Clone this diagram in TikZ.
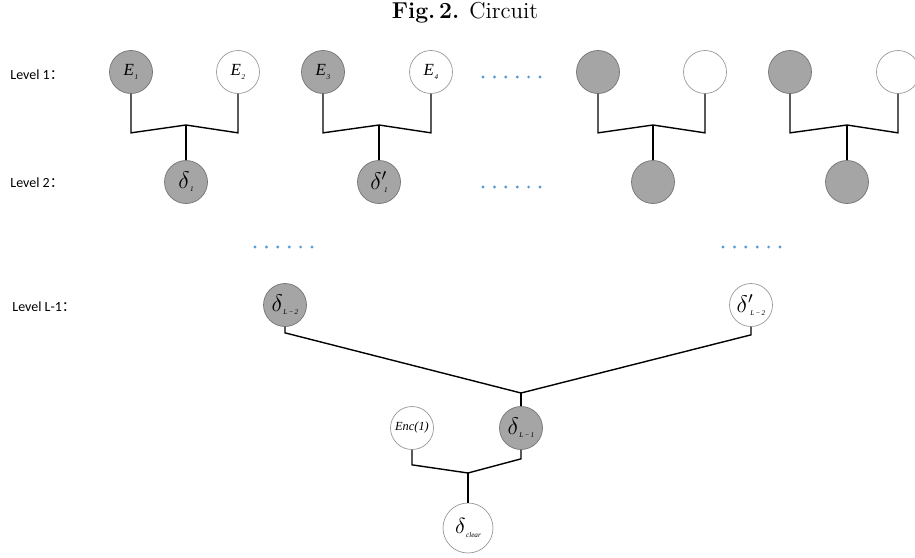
\documentclass[tikz,border=0pt]{standalone}
\usepackage{fontspec}
\newfontfamily\labelfont{Carlito}
\newfontfamily\cjk{Noto Sans CJK SC}
\newfontfamily\timesfont{Liberation Serif}
\definecolor{dotblue}{RGB}{91,155,213}
\definecolor{nodegray}{RGB}{165,165,165}
% tiny italic index set below the base line
\newcommand{\lowidx}[1]{\raisebox{-1.6pt}{\timesfont\itshape\fontsize{3.6}{4}\selectfont #1}}
\newcommand{\Eidx}[1]{{\timesfont\itshape E}\kern0.3pt\lowidx{#1}}
\newcommand{\didx}[1]{$\delta$\kern0.2pt\lowidx{#1}}
\newcommand{\dpidx}[1]{$\delta'$\kern-1.6pt\lowidx{#1}}
\begin{document}
\begin{tikzpicture}[x=0.5pt,y=-0.5pt,
  gate/.style={circle, draw=black!40, line width=0.35pt, minimum size=21.5pt,
    inner sep=0pt, fill=white},
  filled/.style={gate, fill=nodegray, draw=black!55},
  efont/.style={font=\fontsize{8.5}{9}\selectfont},
  dfont/.style={font=\fontsize{12}{13}\selectfont},
  wire/.style={line width=0.7pt, black},
  lvl/.style={anchor=west, inner sep=0pt, font=\labelfont\fontsize{7}{8}\selectfont},
  caption/.style={font=\fontsize{11.5}{13}\selectfont}
]
\useasboundingbox (0,0) rectangle (915,557);

% caption
\node[caption] (title) at (465,13) {\textbf{Fig.\,2.} Circuit};

% level labels
\node[lvl] (lab1) at (10,75) {Level 1{\cjk ：}};
\node[lvl] (lab2) at (10,183) {Level 2{\cjk ：}};
\node[lvl] (lab3) at (12,307) {Level L-1{\cjk ：}};

% level 1 inputs
\node[filled, efont] (e1) at (131,72) {\Eidx{1}};
\node[gate, efont]   (e2) at (238,72) {\Eidx{2}};
\node[filled, efont] (e3) at (323,72) {\Eidx{3}};
\node[gate, efont]   (e4) at (431,72) {\Eidx{4}};
\node[filled] (e5) at (598,72) {};
\node[gate]   (e6) at (705,72) {};
\node[filled] (e7) at (790,72) {};
\node[gate]   (e8) at (898,72) {};

% level 2 outputs
\node[filled, dfont] (d1)  at (186,182) {\didx{1}};
\node[filled, dfont] (d1p) at (379,182) {\dpidx{1}};
\node[filled] (d2) at (653,182) {};
\node[filled] (d3) at (847,182) {};

% level L-1
\node[filled, dfont] (dl) at (285,305) {\didx{L\,\textminus\,2}};
\node[gate, dfont]   (dr) at (751,305) {\dpidx{L\,\textminus\,2}};
\node[filled, dfont] (dlast) at (521,428) {\didx{L\,\textminus\,1}};
\node[gate, font=\timesfont\itshape\fontsize{6.2}{7}\selectfont] (enc) at (412,428) {Enc(1)};
\node[gate, minimum size=25pt, font=\fontsize{11}{12}\selectfont] (clear) at (468,528)
  {\didx{clear}};

% junction points
\coordinate (j1) at (186,125);
\coordinate (j2) at (379,125);
\coordinate (j3) at (653,125);
\coordinate (j4) at (847,125);
\coordinate (j5) at (521,393);
\coordinate (j6) at (468,473);

% wires of the first level
\foreach \a/\b/\j/\o in {e1/e2/j1/d1, e3/e4/j2/d1p, e5/e6/j3/d2, e7/e8/j4/d3}{
  \draw[wire] (\a.south) -- ([yshift=-19.5pt]\a.south) -- (\j)
    -- ([yshift=-19.5pt]\b.south) -- (\b.south);
  \draw[wire] (\j) -- (\o.north);
}

% wires of the last levels
\draw[wire] (dl.south) -- ([yshift=-3pt]dl.south) -- (j5)
  -- ([yshift=-4pt]dr.south) -- (dr.south);
\draw[wire] (j5) -- (dlast.north);
\draw[wire] (enc.south) -- ([yshift=-7.5pt]enc.south) -- (j6)
  -- ([yshift=-4.5pt]dlast.south) -- (dlast.south);
\draw[wire] (j6) -- (clear.north);

% ellipsis dots
\foreach \x/\y in {483/77, 483/187, 255/247, 723/247}{
  \foreach \i in {0,...,5}{
    \fill[dotblue] (\x+\i*11.4,\y) circle (0.8pt);
  }
}
\end{tikzpicture}
\end{document}
